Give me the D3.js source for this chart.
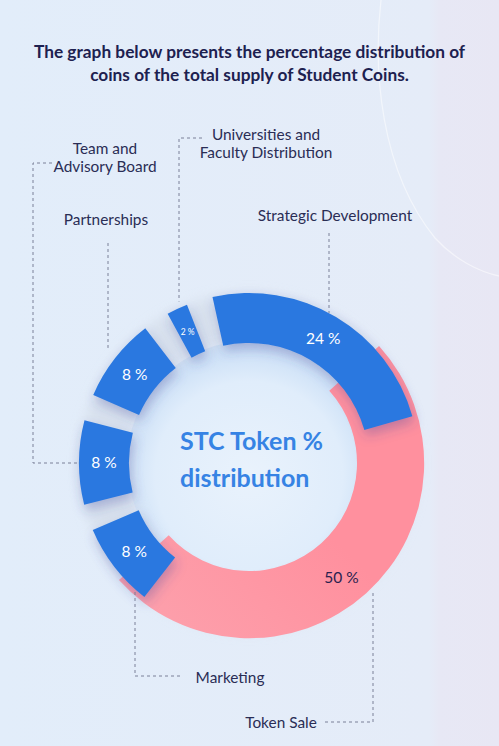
<!DOCTYPE html>
<html>
<head>
<meta charset="utf-8">
<script src="https://cdn.jsdelivr.net/npm/d3@7"></script>
<style>
  html, body { margin: 0; padding: 0; background: #e4edf9; }
  svg { display: block; }
</style>
</head>
<body>
<div id="chart"></div>
<script>
// ---------------- DATA ----------------
const titleLines = [
  "The graph below presents the percentage distribution of",
  "coins of the total supply of Student Coins."
];
const centerLines = ["STC Token %", "distribution"];
// blue segments, clockwise starting from the lower-left
const blueCategories = ["Marketing", "Team and Advisory Board", "Partnerships", "Universities and Faculty Distribution", "Strategic Development"];
const blueValues = [8, 8, 8, 2, 24];
const blueValueLabels = ["8 %", "8 %", "8 %", "2 %", "24 %"];
// pink segment
const pinkCategory = "Token Sale";
const pinkValue = 50;
const pinkValueLabel = "50 %";
// category label lines
const labelLines = {
  "Strategic Development": ["Strategic Development"],
  "Universities and Faculty Distribution": ["Universities and", "Faculty Distribution"],
  "Partnerships": ["Partnerships"],
  "Team and Advisory Board": ["Team and", "Advisory Board"],
  "Marketing": ["Marketing"],
  "Token Sale": ["Token Sale"]
};

// ---------------- LAYOUT ----------------
const W = 499, H = 746;
const cx = 249, cy = 463;
const blueInner = 120, blueOuter = 170;
const pinkInner = 108, pinkOuter = 175;
const deg = Math.PI / 180;
const blueStart = 218 * deg, gap = 9 * deg;
const pinkStart = 48 * deg;

const angle = d3.scaleLinear().domain([0, 100]).range([0, 2 * Math.PI]);

const svg = d3.select("#chart").append("svg").attr("width", W).attr("height", H);
const defs = svg.append("defs");

// background gradient
const bg = defs.append("linearGradient").attr("id", "bg").attr("x1", 0).attr("x2", 1).attr("y1", 0).attr("y2", 0);
bg.append("stop").attr("offset", 0).attr("stop-color", "#e2edfa");
bg.append("stop").attr("offset", 0.86).attr("stop-color", "#e5ecf8");
bg.append("stop").attr("offset", 0.88).attr("stop-color", "#e7e8f5");
bg.append("stop").attr("offset", 1).attr("stop-color", "#e8e7f4");

const blueGrad = defs.append("linearGradient").attr("id", "blueGrad").attr("gradientUnits", "userSpaceOnUse")
  .attr("x1", cx - 170).attr("y1", cy - 170).attr("x2", cx + 170).attr("y2", cy + 60);
blueGrad.append("stop").attr("offset", 0).attr("stop-color", "#2c78e0");
blueGrad.append("stop").attr("offset", 1).attr("stop-color", "#3f92f4");

const pinkGrad = defs.append("linearGradient").attr("id", "pinkGrad").attr("gradientUnits", "userSpaceOnUse")
  .attr("x1", cx + 170).attr("y1", cy - 60).attr("x2", cx - 60).attr("y2", cy + 175);
pinkGrad.append("stop").attr("offset", 0).attr("stop-color", "#ff909e");
pinkGrad.append("stop").attr("offset", 0.55).attr("stop-color", "#fd9fab");
pinkGrad.append("stop").attr("offset", 1).attr("stop-color", "#fbbac4");

const innerGrad = defs.append("radialGradient").attr("id", "innerGrad").attr("cx", "50%").attr("cy", "55%").attr("r", "55%");
innerGrad.append("stop").attr("offset", 0).attr("stop-color", "#e9f2fc");
innerGrad.append("stop").attr("offset", 0.7).attr("stop-color", "#e0edfb");
innerGrad.append("stop").attr("offset", 1).attr("stop-color", "#c6dcf5");

const shadow = defs.append("filter").attr("id", "shadow").attr("x", "-30%").attr("y", "-30%").attr("width", "160%").attr("height", "160%");
shadow.append("feDropShadow").attr("dx", 2).attr("dy", 6).attr("stdDeviation", 6)
  .attr("flood-color", "#3b3f9e").attr("flood-opacity", 0.3);

const blur = defs.append("filter").attr("id", "blur").attr("x", "-20%").attr("y", "-20%").attr("width", "140%").attr("height", "140%");
blur.append("feGaussianBlur").attr("stdDeviation", 6);

// background
svg.append("rect").attr("width", W).attr("height", H).attr("fill", "url(#bg)");
svg.append("path")
  .attr("d", "M381,0 C373,70 380,170 435,238 C455,260 480,272 499,276")
  .attr("fill", "none").attr("stroke", "#ffffff").attr("stroke-opacity", 0.5).attr("stroke-width", 1.3);

// title
const title = svg.append("text").attr("text-anchor", "middle")
  .attr("font-family", "Lato, 'Open Sans', sans-serif").attr("font-weight", 700)
  .attr("font-size", 17.3).attr("fill", "#1d2150");
titleLines.forEach((t, i) => {
  title.append("tspan").attr("x", W / 2).attr("y", 58 + i * 23).text(t);
});

const g = svg.append("g").attr("transform", `translate(${cx},${cy})`);

// inner glow disc
g.append("circle").attr("r", pinkInner + 14).attr("fill", "url(#innerGrad)");

// faint track behind the segments
g.append("circle").attr("r", (blueInner + blueOuter) / 2).attr("fill", "none")
  .attr("stroke", "#d6dfeb").attr("stroke-width", blueOuter - blueInner).attr("filter", "url(#blur)").attr("opacity", 0.8);

// pink arc
const pinkArcGen = d3.arc().innerRadius(pinkInner).outerRadius(pinkOuter);
const pinkDatum = { startAngle: pinkStart, endAngle: pinkStart + angle(pinkValue) };
g.append("path").attr("d", pinkArcGen(pinkDatum)).attr("fill", "url(#pinkGrad)");

// blue arcs
const blueData = [];
let a0 = blueStart;
blueValues.forEach((v, i) => {
  const a1 = a0 + angle(v);
  blueData.push({ category: blueCategories[i], value: v, label: blueValueLabels[i], startAngle: a0, endAngle: a1 });
  a0 = a1 + gap;
});
const blueArcGen = d3.arc().innerRadius(blueInner).outerRadius(blueOuter);
g.selectAll("path.blue").data(blueData).join("path")
  .attr("class", "blue")
  .attr("d", blueArcGen)
  .attr("fill", "url(#blueGrad)")
  .attr("filter", "url(#shadow)");

// value labels
g.selectAll("text.val").data(blueData).join("text")
  .attr("class", "val")
  .attr("transform", d => `translate(${blueArcGen.centroid(d)})`)
  .attr("text-anchor", "middle").attr("dominant-baseline", "central")
  .attr("font-family", "Lato, 'Open Sans', sans-serif")
  .attr("font-size", d => d.value < 5 ? 8.5 : 15.5)
  .attr("fill", "#ffffff")
  .text(d => d.label);

const pinkLabelArc = d3.arc().innerRadius(118).outerRadius(176);
g.append("text")
  .attr("transform", `translate(${pinkLabelArc.centroid({ startAngle: pinkDatum.startAngle + 6 * deg, endAngle: pinkDatum.endAngle })})`)
  .attr("text-anchor", "middle").attr("dominant-baseline", "central")
  .attr("font-family", "Lato, 'Open Sans', sans-serif").attr("font-size", 15.5)
  .attr("fill", "#2b1f4f").text(pinkValueLabel);

// center text
const ct = svg.append("text").attr("font-family", "Lato, 'Open Sans', sans-serif").attr("font-weight", 700)
  .attr("font-size", 25).attr("fill", "#3683e4");
centerLines.forEach((t, i) => {
  ct.append("tspan").attr("x", 180).attr("y", 450 + i * 37).text(t);
});

// category labels + leaders
const labelPos = {
  "Strategic Development": { x: 335, y: 221 },
  "Universities and Faculty Distribution": { x: 266, y: 140 },
  "Partnerships": { x: 106, y: 225 },
  "Team and Advisory Board": { x: 105, y: 154 },
  "Marketing": { x: 230, y: 683 },
  "Token Sale": { x: 281, y: 728 }
};
const labelG = svg.append("g").attr("font-family", "Lato, 'Open Sans', sans-serif").attr("font-size", 15.4).attr("fill", "#2a2d55");
Object.keys(labelLines).forEach(k => {
  const p = labelPos[k];
  const t = labelG.append("text").attr("text-anchor", "middle");
  labelLines[k].forEach((line, i) => t.append("tspan").attr("x", p.x).attr("y", p.y + i * 18).text(line));
});

// leader helpers: y on circle for a given x
const yTop = (x, r) => cy - Math.sqrt(r * r - (x - cx) * (x - cx));
const yBot = (x, r) => cy + Math.sqrt(r * r - (x - cx) * (x - cx));
const leaders = [
  [[329, 233], [329, yTop(329, blueOuter)]],
  [[202, 138], [179, 138], [179, yTop(179, blueOuter + 6)]],
  [[108, 243], [108, yTop(108, blueOuter + 12)]],
  [[52, 163], [33, 163], [33, cy], [cx - blueOuter, cy]],
  [[180, 676], [135, 676], [135, yBot(135, blueOuter)]],
  [[325, 722], [373, 722], [373, yBot(373, pinkOuter + 4)]]
];
svg.append("g").selectAll("path").data(leaders).join("path")
  .attr("d", d => d3.line()(d))
  .attr("fill", "none").attr("stroke", "#7b8098").attr("stroke-width", 1)
  .attr("stroke-dasharray", "3,3");
</script>
</body>
</html>
